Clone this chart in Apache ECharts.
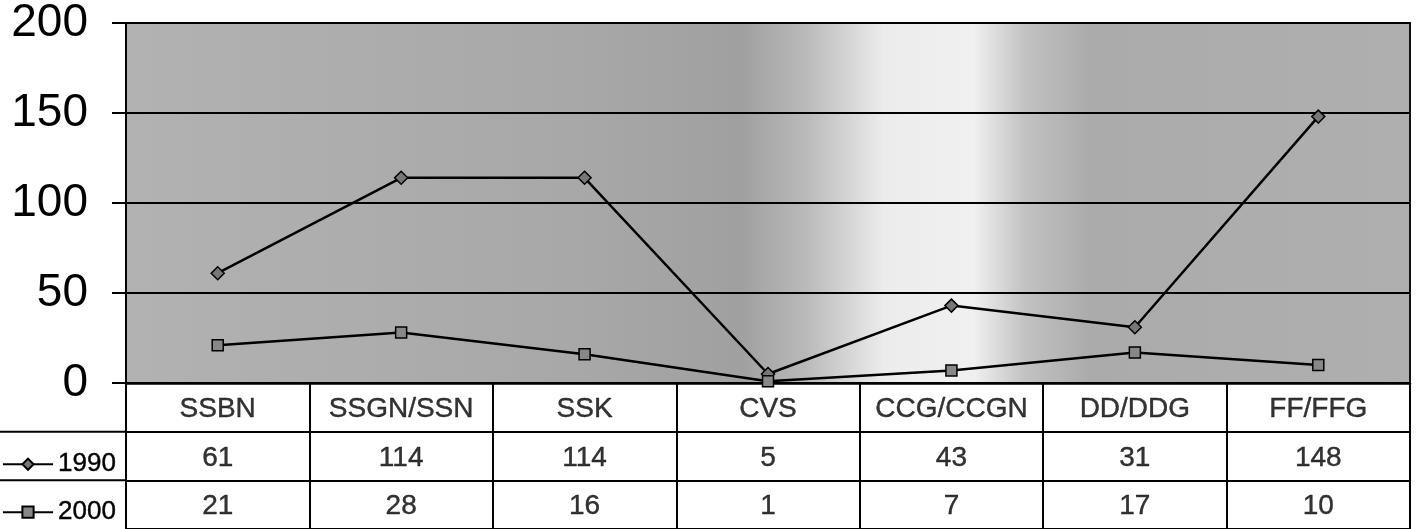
<!DOCTYPE html>
<html><head><meta charset="utf-8">
<script src="https://cdn.jsdelivr.net/npm/echarts@6/dist/echarts.min.js"></script>
<style>html,body{margin:0;padding:0;background:#fff}#c{width:1418px;height:529px}</style>
</head><body><div id="c"></div>
<script>
const categories = ['SSBN','SSGN/SSN','SSK','CVS','CCG/CCGN','DD/DDG','FF/FFG'];
const seriesNames = ['1990','2000'];
const values1990 = [61,114,114,5,43,31,148];
const values2000 = [21,28,16,1,7,17,10];
const yTicks = [0,50,100,150,200];

const FONT = '"Liberation Sans", Arial, sans-serif';
const chart = echarts.init(document.getElementById('c'));

const tableRows = [
  {y: 2.5, vals: categories},
  {y: 1.5, vals: values1990.map(String)},
  {y: 0.5, vals: values2000.map(String)}
];
const tableData = [];
tableRows.forEach(r => r.vals.forEach((v,i) => tableData.push([categories[i], r.y, v])));

const lineLegend = (name, top) => ({
  data: [name], left: 2, top: top, padding: 0, itemWidth: 50, itemHeight: 14, itemGap: 0,
  textStyle: {fontFamily: FONT, fontSize: 26, color: '#000', lineHeight: 26, textBorderColor: '#000', textBorderWidth: 0.4},
  selectedMode: false
});

chart.setOption({
  animation: false,
  backgroundColor: '#fff',
  textStyle: {fontFamily: FONT},
  legend: [lineLegend(seriesNames[0], 451), lineLegend(seriesNames[1], 499)],
  grid: [
    {left: 126, right: 8, top: 23, bottom: 146, show: true, borderWidth: 2, borderColor: '#111',
     backgroundColor: {type: 'linear', x: 0, y: 0, x2: 1, y2: 0, colorStops: [
       {offset: 0, color: '#b2b2b2'}, {offset: 0.35, color: '#a8a8a8'}, {offset: 0.48, color: '#a0a0a0'},
       {offset: 0.53, color: '#bababa'}, {offset: 0.59, color: '#ececec'}, {offset: 0.66, color: '#f0f0f0'},
       {offset: 0.7, color: '#c2c2c2'}, {offset: 0.75, color: '#ababab'}, {offset: 1, color: '#afafaf'}]}},
    {left: 126, right: 8, top: 383, height: 150, show: false}
  ],
  xAxis: [
    {gridIndex: 0, type: 'category', data: categories, boundaryGap: true,
     axisLine: {lineStyle: {color: '#000', width: 2.5}}, axisTick: {show: false}, axisLabel: {show: false}},
    {gridIndex: 1, type: 'category', data: categories, boundaryGap: true,
     axisLine: {show: false}, axisTick: {show: false}, axisLabel: {show: false},
     splitLine: {show: true, interval: 0, lineStyle: {color: '#000', width: 2}}}
  ],
  yAxis: [
    {gridIndex: 0, type: 'value', min: yTicks[0], max: yTicks[yTicks.length-1], interval: 50,
     axisLine: {show: true, lineStyle: {color: '#000', width: 2}},
     axisTick: {show: true, length: 14, lineStyle: {color: '#000', width: 2}},
     axisLabel: {fontSize: 46, color: '#000', margin: 38, fontFamily: FONT},
     splitLine: {show: true, lineStyle: {color: '#000', width: 2}}},
    {gridIndex: 1, type: 'value', min: 0, max: 3, interval: 1,
     axisLine: {show: true, lineStyle: {color: '#000', width: 2}}, axisTick: {show: false}, axisLabel: {show: false},
     splitLine: {show: true, lineStyle: {color: '#000', width: 2}}}
  ],
  series: [
    {name: seriesNames[0], type: 'line', xAxisIndex: 0, yAxisIndex: 0, data: values1990,
     symbol: 'diamond', symbolSize: 13, lineStyle: {color: '#000', width: 2.5},
     itemStyle: {color: '#777', borderColor: '#000', borderWidth: 1.5}},
    {name: seriesNames[1], type: 'line', xAxisIndex: 0, yAxisIndex: 0, data: values2000,
     symbol: 'rect', symbolSize: 11, lineStyle: {color: '#000', width: 2.5},
     itemStyle: {color: '#888', borderColor: '#000', borderWidth: 1.5}},
    {type: 'scatter', xAxisIndex: 1, yAxisIndex: 1, data: tableData, symbolSize: 0, silent: true,
     label: {show: true, position: 'inside', fontSize: 28, color: '#000', fontFamily: FONT,
             textBorderColor: '#000', textBorderWidth: 0.4, offset: [0, 2],
             formatter: p => p.value[2]}}
  ]
});

// left-hand row borders of the data table, positioned through the table axis scale
const leftEdge = chart.convertToPixel({xAxisIndex: 1}, categories[0]) - (chart.convertToPixel({xAxisIndex: 1}, categories[1]) - chart.convertToPixel({xAxisIndex: 1}, categories[0])) / 2;
const rowLines = [2, 1].map(v => {
  const y = chart.convertToPixel({yAxisIndex: 1}, v);
  return {type: 'line', shape: {x1: 0, y1: y, x2: leftEdge, y2: y}, style: {stroke: '#000', lineWidth: 2}, silent: true};
});
chart.setOption({graphic: rowLines});
</script></body></html>
